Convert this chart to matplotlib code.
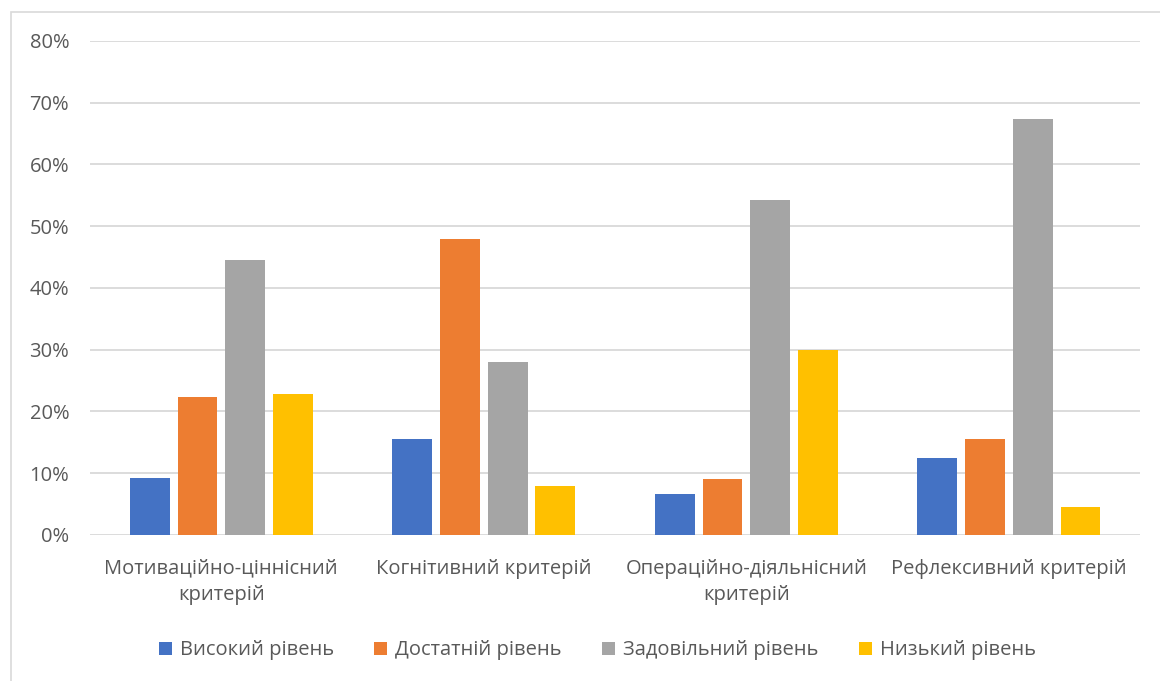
import numpy as np
import matplotlib
matplotlib.use("Agg")
import matplotlib.pyplot as plt
from matplotlib.patches import Rectangle
from matplotlib.ticker import PercentFormatter

plt.rcParams['font.family'] = ['Open Sans', 'DejaVu Sans']

# Data
categories = ['Мотиваційно-ціннісний\nкритерій', 'Когнітивний критерій',
              'Операційно-діяльнісний\nкритерій', 'Рефлексивний критерій']
levels = ['Високий рівень', 'Достатній рівень', 'Задовільний рівень', 'Низький рівень']
high = [9.3, 15.5, 6.6, 12.4]
sufficient = [22.4, 48.0, 9.0, 15.5]
satisfactory = [44.6, 28.0, 54.2, 67.3]
low = [22.8, 7.9, 30.0, 4.5]
colors = ['#4472C4', '#ED7D31', '#A5A5A5', '#FFC000']

series = [high, sufficient, satisfactory, low]
text_color = '#595959'

fig = plt.figure(figsize=(11.6, 6.81), dpi=100)
ax = fig.add_axes([0.0776, 0.2144, 0.9052, 0.7256])

# chart border
fig.patches.append(Rectangle((11 / 1160, -0.01), 1.02, 1 - 12 / 681 + 0.01,
                             transform=fig.transFigure, fill=False,
                             edgecolor='#d9d9d9', linewidth=1.2))

x = np.arange(len(categories))
w = 1 / 6.6
pitch = 1.2 * w
for i, (vals, c, lab) in enumerate(zip(series, colors, levels)):
    ax.bar(x + (i - 1.5) * pitch, np.array(vals) / 100, width=w, color=c,
           label=lab, zorder=3)

ax.set_xlim(-0.5, 3.5)
ax.set_ylim(0, 0.8)
ax.set_yticks(np.arange(0, 0.81, 0.1))
ax.yaxis.set_major_formatter(PercentFormatter(1.0, decimals=0))
ax.grid(axis='y', color='#d9d9d9', linewidth=1.3, zorder=0)
for s in ax.spines.values():
    s.set_visible(False)
ax.tick_params(axis='both', length=0, colors=text_color, labelsize=14.5)
ax.tick_params(axis='y', pad=15)
ax.tick_params(axis='x', pad=17)
ax.set_xticks(x)
ax.set_xticklabels(categories, linespacing=1.45)

fig.legend(loc='center', bbox_to_anchor=(0.515, 0.045), ncol=4, frameon=False,
           fontsize=14.5, labelcolor=text_color, handlelength=0.65,
           handleheight=0.65, handletextpad=0.4, columnspacing=2.0)

fig.savefig('out.png', dpi=100)
